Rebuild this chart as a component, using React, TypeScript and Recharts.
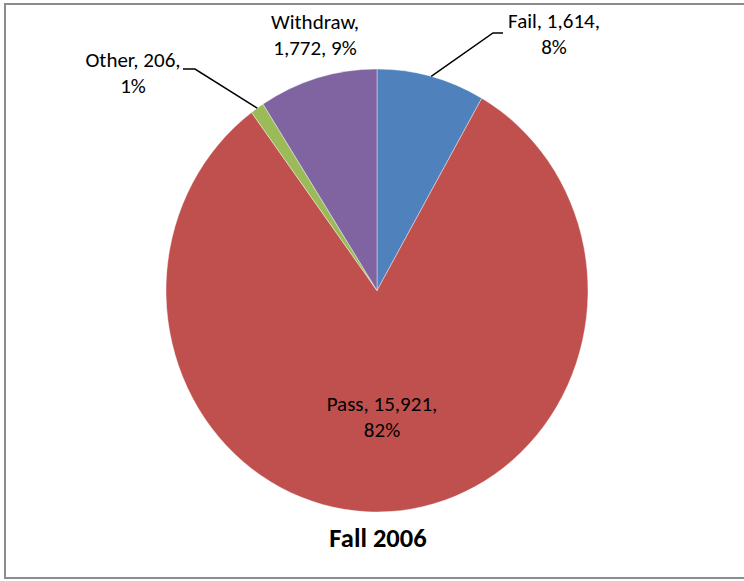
import React from 'react';
import { PieChart, Pie, Cell } from 'recharts';

// ---- data ----
const categories = ['Fail', 'Pass', 'Other', 'Withdraw'];
const counts = [1614, 15921, 206, 1772];
const sliceColors = ['#4F81BD', '#C0504D', '#9BBB59', '#8064A2'];
const chartTitle = 'Fall 2006';

const data = categories.map((name, i) => ({ name, value: counts[i] }));

// ---- layout / style ----
const W = 744;
const H = 581;
const CX = 377;
const CY = 290.5;
const R = 211;
const Y_SCALE = 221.5 / 211;
const RAD = Math.PI / 180;
const FONT = 'Carlito, Calibri, Lato, sans-serif';
const LABEL_SIZE = 21;
const LINE_GAP = 26;

type LabelLayout = {
  x: number;
  y: number;
  breakAfter: 'name' | 'value';
  leader?: [number, number][];
};

const LABEL_LAYOUT: LabelLayout[] = [
  { x: 554, y: 28, breakAfter: 'value', leader: [[493, 33], [503, 33]] },
  { x: 382, y: 411, breakAfter: 'value' },
  { x: 133, y: 67, breakAfter: 'value', leader: [[195, 69], [183, 69]] },
  { x: 315, y: 29, breakAfter: 'name' },
];

const EllipseSector = (props: any) => {
  const { cx, cy, outerRadius, startAngle, endAngle, fill } = props;
  const rx = outerRadius;
  const ry = outerRadius * Y_SCALE;
  const pt = (a: number) => [cx + rx * Math.cos(-a * RAD), cy + ry * Math.sin(-a * RAD)];
  const [x1, y1] = pt(startAngle);
  const [x2, y2] = pt(endAngle);
  const large = Math.abs(endAngle - startAngle) > 180 ? 1 : 0;
  const sweep = startAngle > endAngle ? 1 : 0;
  return (
    <path
      d={`M${cx},${cy} L${x1},${y1} A${rx},${ry} 0 ${large} ${sweep} ${x2},${y2} Z`}
      fill={fill}
      stroke="#ffffff"
      strokeWidth={0.4}
    />
  );
};

const renderLabel = (props: any) => {
  const { cx, cy, midAngle, outerRadius, index, name, value, percent } = props;
  const L = LABEL_LAYOUT[index];
  const pct = `${Math.round(percent * 100)}%`;
  const num = Number(value).toLocaleString('en-US');
  const lines =
    L.breakAfter === 'name' ? [`${name},`, `${num}, ${pct}`] : [`${name}, ${num},`, pct];
  const ex = cx + outerRadius * Math.cos(-midAngle * RAD);
  const ey = cy + outerRadius * Y_SCALE * Math.sin(-midAngle * RAD);
  return (
    <g key={`lbl-${index}`}>
      {L.leader && (
        <polyline
          points={[[ex, ey], ...L.leader].map((p) => p.join(',')).join(' ')}
          fill="none"
          stroke="#000"
          strokeWidth={1.5}
        />
      )}
      <text
        x={L.x}
        y={L.y}
        textAnchor="middle"
        fontFamily={FONT}
        fontSize={LABEL_SIZE}
        fill="#000"
      >
        <tspan x={L.x} y={L.y}>{lines[0]}</tspan>
        <tspan x={L.x} y={L.y + LINE_GAP}>{lines[1]}</tspan>
      </text>
    </g>
  );
};

export default function App() {
  return (
    <div style={{ position: 'absolute', left: 0, top: 0, width: W, height: H, background: '#fff' }}>
      <div
        style={{
          position: 'absolute',
          left: 4,
          top: 3,
          width: 800,
          height: 576,
          border: '2px solid #8c8c8c',
          boxSizing: 'border-box',
        }}
      />
      <div style={{ position: 'absolute', left: 0, top: 0 }}>
        <PieChart width={W} height={H} margin={{ top: 0, right: 0, bottom: 0, left: 0 }}>
          <Pie
            data={data}
            dataKey="value"
            nameKey="name"
            cx={CX}
            cy={CY}
            outerRadius={R}
            startAngle={90}
            endAngle={-270}
            isAnimationActive={false}
            shape={EllipseSector}
            label={renderLabel}
            labelLine={false}
            stroke="#ffffff"
          >
            {data.map((d, i) => (
              <Cell key={d.name} fill={sliceColors[i]} />
            ))}
          </Pie>
        </PieChart>
      </div>
      <svg
        width={W}
        height={H}
        style={{ position: 'absolute', left: 0, top: 0, pointerEvents: 'none' }}
      >
        <text
          x={378}
          y={547}
          textAnchor="middle"
          fontFamily={FONT}
          fontWeight="bold"
          fontSize={26.5}
          fill="#000"
        >
          {chartTitle}
        </text>
      </svg>
    </div>
  );
}
